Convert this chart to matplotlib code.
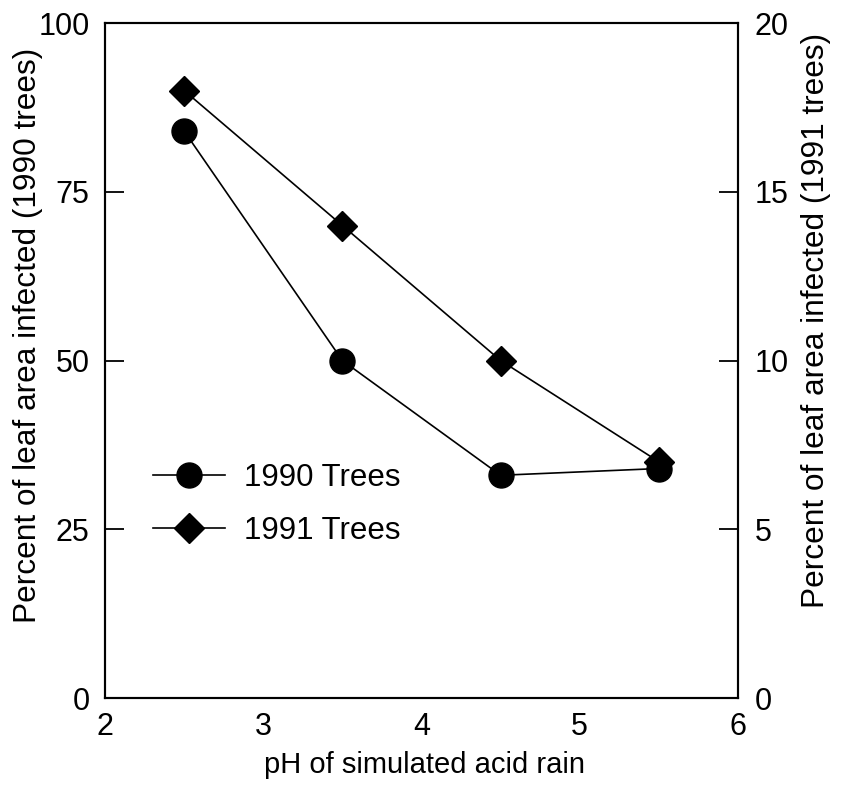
"""
Leaf area infected vs. pH of simulated acid rain (1990 / 1991 trees)
"""

import matplotlib
matplotlib.use("Agg")
import matplotlib.pyplot as plt

plt.rcParams["font.family"] = ["Liberation Sans", "DejaVu Sans"]

# data
ph = [2.5, 3.5, 4.5, 5.5]
infected_1990 = [84, 50, 33, 34]   # left axis
infected_1991 = [18, 14, 10, 7]    # right axis

left_ticks = [0, 25, 50, 75, 100]
right_ticks = [0, 5, 10, 15, 20]
x_ticks = [2, 3, 4, 5, 6]

fig = plt.figure(figsize=(8.42, 7.89), dpi=100)
ax = fig.add_axes([0.1247, 0.1153, 0.7518, 0.8555])
ax2 = ax.twinx()

l1, = ax.plot(ph, infected_1990, color="black", linewidth=1.2,
              marker="o", markersize=18, label="1990 Trees")
l2, = ax2.plot(ph, infected_1991, color="black", linewidth=1.2,
               marker="D", markersize=15, label="1991 Trees")

ax.set_xlim(2, 6)
ax.set_ylim(0, 100)
ax2.set_ylim(0, 20)
ax.set_xticks(x_ticks)
ax.set_yticks(left_ticks)
ax2.set_yticks(right_ticks)

for a in (ax, ax2):
    for s in a.spines.values():
        s.set_linewidth(1.5)

ax.tick_params(axis="y", direction="in", length=14, width=1.3, pad=11, labelsize=22)
ax.tick_params(axis="x", length=0, pad=10, labelsize=22)
ax2.tick_params(axis="y", direction="in", length=14, width=1.3, pad=12, labelsize=22)

ax.set_xlabel("pH of simulated acid rain", fontsize=21)
ax.set_ylabel("Percent of leaf area infected (1990 trees)", fontsize=22.8)
ax2.set_ylabel("Percent of leaf area infected (1991 trees)", fontsize=22.8)
# label positions as in the original (not centred on the axes)
ax.xaxis.set_label_coords(0.504, -0.078)
ax.yaxis.set_label_coords(-0.098, 0.538)
ax2.yaxis.set_label_coords(1.0995, 0.56)

ax.legend(handles=[l1, l2], loc="center left", bbox_to_anchor=(0.076, 0.287),
          frameon=False, fontsize=22.5, handlelength=2.3, handletextpad=0.6,
          labelspacing=0.75, borderpad=0, borderaxespad=0)

fig.savefig("out.png", dpi=100)
